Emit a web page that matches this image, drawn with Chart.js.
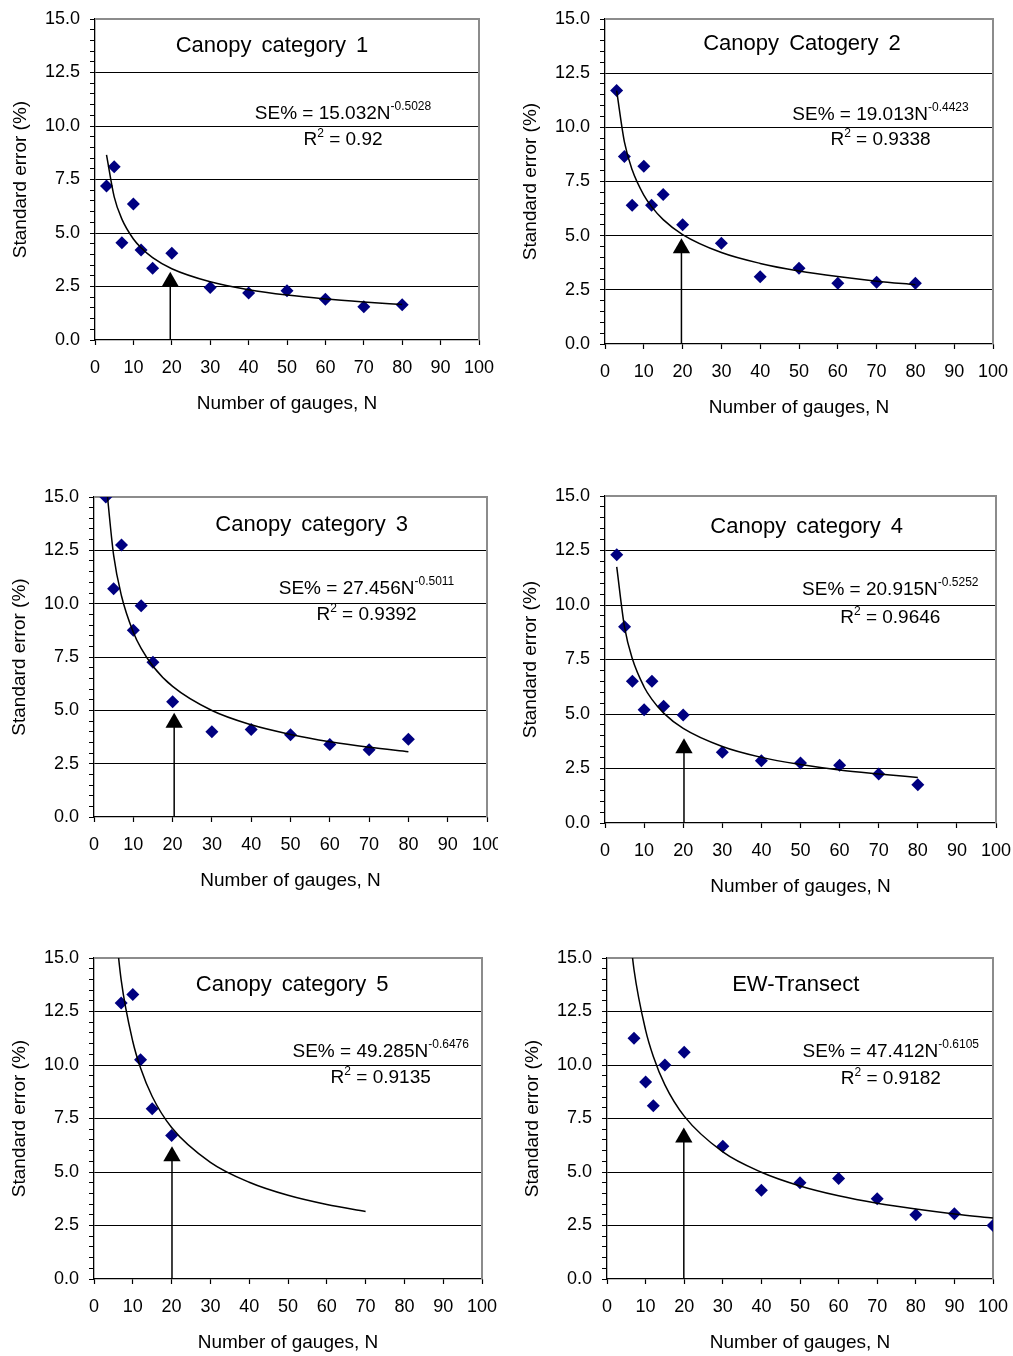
<!DOCTYPE html>
<html>
<head>
<meta charset="utf-8">
<script src="https://cdn.jsdelivr.net/npm/chart.js@4.4.0/dist/chart.umd.min.js"></script>
<style>
html, body { margin: 0; padding: 0; background: #fff; overflow: hidden; }
body { width: 1013px; height: 1356px; position: relative; }
.wrap { position: absolute; overflow: hidden; }
.wrap canvas { position: absolute; left: 0; top: 0; }
</style>
</head>
<body>
<div id="panels"></div>
<script>
// ---- data ----
const panelTitles = ['Canopy category 1', 'Canopy Catogery 2', 'Canopy category 3',
                     'Canopy category 4', 'Canopy category 5', 'EW-Transect'];
const coefs = ['15.032', '19.013', '27.456', '20.915', '49.285', '47.412'];
const exps = ['-0.5028', '-0.4423', '-0.5011', '-0.5252', '-0.6476', '-0.6105'];
const r2Values = ['0.92', '0.9338', '0.9392', '0.9646', '0.9135', '0.9182'];

// observed standard error vs number of gauges
const n1 = [3, 5, 7, 10, 12, 15, 20, 30, 40, 50, 60, 70, 80];
const se1 = [7.2, 8.1, 4.55, 6.35, 4.2, 3.35, 4.05, 2.45, 2.2, 2.3, 1.9, 1.55, 1.65];
const n2 = [3, 5, 7, 10, 12, 15, 20, 30, 40, 50, 60, 70, 80];
const se2 = [11.7, 8.65, 6.4, 8.2, 6.4, 6.9, 5.5, 4.65, 3.1, 3.5, 2.8, 2.85, 2.8];
const n3 = [3, 5, 7, 10, 12, 15, 20, 30, 40, 50, 60, 70, 80];
const se3 = [15.0, 10.7, 12.75, 8.75, 9.9, 7.25, 5.4, 4.0, 4.1, 3.85, 3.4, 3.15, 3.65];
const n4 = [3, 5, 7, 10, 12, 15, 20, 30, 40, 50, 60, 70, 80];
const se4 = [12.3, 9.0, 6.5, 5.2, 6.5, 5.35, 4.95, 3.25, 2.85, 2.75, 2.65, 2.25, 1.75];
const n5 = [7, 10, 12, 15, 20];
const se5 = [12.9, 13.3, 10.25, 7.95, 6.7];
const n6 = [7, 10, 12, 15, 20, 30, 40, 50, 60, 70, 80, 90, 100];
const se6 = [11.25, 9.2, 8.1, 10.0, 10.6, 6.2, 4.15, 4.5, 4.7, 3.75, 3.0, 3.05, 2.5];

// power trend lines
const fitN1 = [3, 5, 7, 10, 12, 15, 20, 30, 40, 50, 60, 70, 80];
const fitSE1 = [8.65, 6.69, 5.65, 4.72, 4.31, 3.85, 3.33, 2.72, 2.35, 2.10, 1.92, 1.78, 1.66];
const fitN2 = [3, 5, 7, 10, 12, 15, 20, 30, 40, 50, 60, 70, 80];
const fitSE2 = [11.69, 9.33, 8.04, 6.87, 6.34, 5.74, 5.05, 4.22, 3.72, 3.37, 3.11, 2.90, 2.74];
const fitN3 = [3, 5, 7, 10, 12, 15, 20, 30, 40, 50, 60, 70, 80];
const fitSE3 = [15.83, 12.26, 10.36, 8.66, 7.90, 7.07, 6.12, 4.99, 4.32, 3.87, 3.53, 3.27, 3.06];
const fitN4 = [3, 5, 7, 10, 12, 15, 20, 30, 40, 50, 60, 70, 80];
const fitSE4 = [11.75, 8.98, 7.53, 6.24, 5.67, 5.04, 4.34, 3.51, 3.01, 2.68, 2.43, 2.25, 2.09];
const fitN5 = [5, 7, 10, 12, 15, 20, 30, 40, 50, 60, 70];
const fitSE5 = [17.4, 13.98, 11.10, 9.86, 8.53, 7.08, 5.45, 4.52, 3.91, 3.48, 3.15];
const fitN6 = [5, 7, 10, 12, 15, 20, 30, 40, 50, 60, 70, 80, 90, 100];
const fitSE6 = [17.75, 14.45, 11.63, 10.40, 9.07, 7.61, 5.94, 4.99, 4.35, 3.89, 3.54, 3.27, 3.04, 2.85];

// arrows marking N = 20 (x position and height of the arrow head centre)
const arrowN = [19.6, 19.7, 20.4, 20.2, 20.1, 19.9];
const arrowHead = [2.72, 4.42, 4.42, 3.43, 5.74, 6.61];

const xTicksMax = 100;
const yTicksMax = 15;

const obsN = [n1, n2, n3, n4, n5, n6];
const obsSE = [se1, se2, se3, se4, se5, se6];
const fitN = [fitN1, fitN2, fitN3, fitN4, fitN5, fitN6];
const fitSE = [fitSE1, fitSE2, fitSE3, fitSE4, fitSE5, fitSE6];

// ---- layout (page pixels) ----
// plot area [left, top, right, bottom]
const plotBoxes = [[95, 19, 479, 340], [605, 19, 993, 344], [94, 497, 487, 817],
                   [605, 496, 996, 823], [94, 958, 482, 1279], [607, 958, 993, 1279]];
const clipRight = [null, null, 498, null, null, null];
// title centre x / baseline, equation centre x / two baselines
const titlePos = [[272, 52], [802, 49.5], [311.7, 530.7], [806.7, 532.7], [292.2, 991], [795.7, 991]];
const eqPos = [[343, 118.5, 144.5], [880.5, 119.8, 145.2], [366.5, 593.8, 619.8],
               [890.3, 594.8, 623.2], [380.7, 1057.2, 1083.2], [890.8, 1057.2, 1083.8]];

const FONT = '"Liberation Sans", Arial, Helvetica, sans-serif';
const Y_W = 95, X_H = 78, PAD_T = 24, PAD_R = 30;

const framePlugin = {
  id: 'frame',
  beforeDatasetsDraw(chart) {
    const { ctx, chartArea: a } = chart;
    ctx.save();
    ctx.strokeStyle = '#8c8c8c';
    ctx.lineWidth = 2;
    ctx.beginPath();
    ctx.moveTo(a.left, a.top);
    ctx.lineTo(a.right, a.top);
    ctx.lineTo(a.right, a.bottom);
    ctx.stroke();
    ctx.restore();
  }
};

const textPlugin = {
  id: 'panelText',
  afterDraw(chart, args, o) {
    const ctx = chart.ctx;
    ctx.save();
    ctx.fillStyle = '#000';
    ctx.textBaseline = 'alphabetic';
    // title inside plot
    ctx.font = '22px ' + FONT;
    if ('wordSpacing' in ctx) ctx.wordSpacing = '4px';
    ctx.textAlign = 'center';
    ctx.fillText(o.title, o.tx - o.ox, o.ty - o.oy);
    if ('wordSpacing' in ctx) ctx.wordSpacing = '0px';
    ctx.textAlign = 'left';
    const big = '19px ' + FONT, small = '12px ' + FONT;
    // SE% = aN^b
    const main = 'SE% = ' + o.coef + 'N';
    ctx.font = big; const w1 = ctx.measureText(main).width;
    ctx.font = small; const w2 = ctx.measureText(o.exp).width;
    let x = o.ex - o.ox - (w1 + w2) / 2;
    ctx.font = big; ctx.fillText(main, x, o.ey1 - o.oy);
    ctx.font = small; ctx.fillText(o.exp, x + w1, o.ey1 - o.oy - 9);
    // R^2 = ...
    const tail = ' = ' + o.r2;
    ctx.font = big; const wr = ctx.measureText('R').width, wt = ctx.measureText(tail).width;
    ctx.font = small; const ws = ctx.measureText('2').width;
    x = o.ex - o.ox - (wr + ws + wt) / 2;
    ctx.font = big; ctx.fillText('R', x, o.ey2 - o.oy);
    ctx.font = small; ctx.fillText('2', x + wr, o.ey2 - o.oy - 8);
    ctx.font = big; ctx.fillText(tail, x + wr + ws, o.ey2 - o.oy);
    ctx.restore();
  }
};

const holder = document.getElementById('panels');

for (let i = 0; i < 6; i++) {
  const [L, T, R, B] = plotBoxes[i];
  const cl = L - Y_W, ct = T - PAD_T;
  const cw = (R - L) + Y_W + PAD_R, ch = (B - T) + PAD_T + X_H;

  const wrap = document.createElement('div');
  wrap.className = 'wrap';
  wrap.style.left = cl + 'px';
  wrap.style.top = ct + 'px';
  wrap.style.width = (clipRight[i] ? clipRight[i] - cl : cw) + 'px';
  wrap.style.height = ch + 'px';
  const canvas = document.createElement('canvas');
  canvas.width = cw;
  canvas.height = ch;
  canvas.style.width = cw + 'px';
  canvas.style.height = ch + 'px';
  wrap.appendChild(canvas);
  holder.appendChild(wrap);

  const obs = obsN[i].map((n, k) => ({ x: n, y: obsSE[i][k] }));
  const fit = fitN[i].map((n, k) => ({ x: n, y: fitSE[i][k] }));
  const arrow = [{ x: arrowN[i], y: 0 }, { x: arrowN[i], y: arrowHead[i] }];

  new Chart(canvas, {
    type: 'scatter',
    data: {
      datasets: [
        {
          type: 'line', label: 'arrow', data: arrow, order: 0,
          borderColor: '#000', borderWidth: 1.5,
          pointStyle: 'triangle', pointRadius: [0, 10], pointBorderWidth: 0,
          pointBackgroundColor: '#000', pointBorderColor: '#000'
        },
        {
          type: 'line', label: 'Power trend', data: fit, order: 1,
          borderColor: '#000', borderWidth: 1.5, pointRadius: 0,
          cubicInterpolationMode: 'monotone', fill: false
        },
        {
          label: 'Standard error', data: obs, order: 2,
          pointStyle: 'rectRot', pointRadius: 6.5, pointBorderWidth: 0,
          backgroundColor: '#000080', borderColor: '#000080'
        }
      ]
    },
    options: {
      responsive: false,
      animation: false,
      events: [],
      layout: { padding: { top: PAD_T, right: PAD_R, left: 0, bottom: 0 } },
      plugins: {
        legend: { display: false },
        tooltip: { enabled: false },
        panelText: {
          title: panelTitles[i], tx: titlePos[i][0], ty: titlePos[i][1],
          coef: coefs[i], exp: exps[i], r2: r2Values[i],
          ex: eqPos[i][0], ey1: eqPos[i][1], ey2: eqPos[i][2],
          ox: cl, oy: ct
        }
      },
      scales: {
        x: {
          type: 'linear', min: 0, max: xTicksMax,
          afterFit: s => { s.height = X_H; },
          ticks: {
            stepSize: 10, autoSkip: false, maxRotation: 0, padding: 12,
            color: '#000', font: { family: FONT, size: 18 }
          },
          grid: { drawOnChartArea: false, tickLength: 5, tickColor: '#000', tickWidth: 1.2 },
          border: { color: '#000', width: 1.3 },
          title: {
            display: true, text: 'Number of gauges, N', color: '#000',
            font: { family: FONT, size: 19 }, padding: { top: 0, bottom: 3 }
          }
        },
        y: {
          min: 0, max: yTicksMax,
          afterFit: s => { s.width = Y_W; },
          ticks: {
            stepSize: 0.5, maxTicksLimit: 40, autoSkip: false, padding: 10,
            color: '#000', font: { family: FONT, size: 18 },
            callback: v => (v % 2.5 === 0 ? v.toFixed(1) : '')
          },
          grid: {
            color: c => (c.tick && c.tick.value % 2.5 === 0 && c.tick.value > 0 && c.tick.value < yTicksMax)
              ? '#000' : 'rgba(0,0,0,0)',
            lineWidth: 1, tickLength: 5, tickColor: '#000', tickWidth: 1
          },
          border: { color: '#000', width: 1.3 },
          title: {
            display: true, text: 'Standard error (%)', color: '#000',
            font: { family: FONT, size: 19 }, padding: { top: 9, bottom: 0 }
          }
        }
      }
    },
    plugins: [framePlugin, textPlugin]
  });
}
</script>
</body>
</html>
